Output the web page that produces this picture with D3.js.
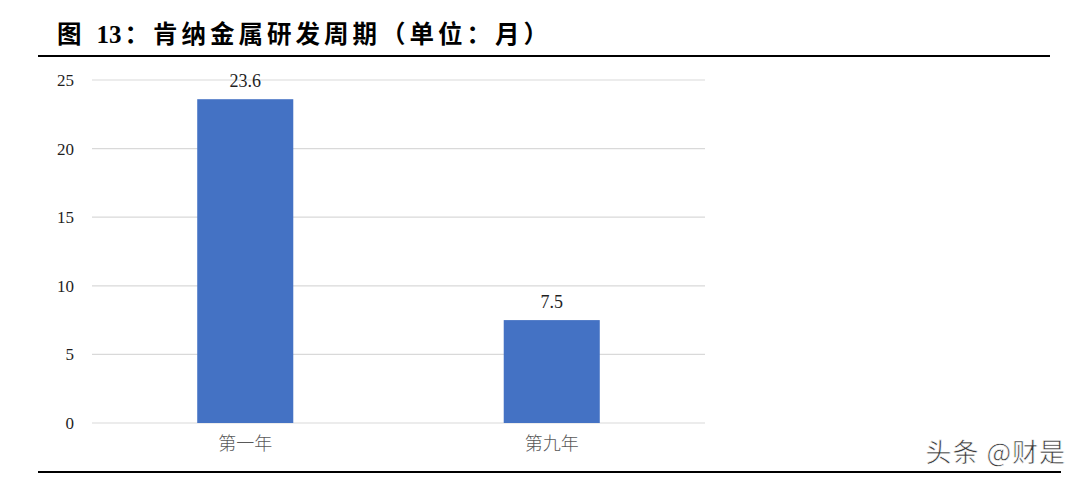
<!DOCTYPE html>
<html lang="zh">
<head>
<meta charset="UTF-8">
<title>肯纳金属研发周期</title>
<script src="https://cdn.jsdelivr.net/npm/d3@7/dist/d3.min.js"></script>
<style>
  body { margin: 0; background: #fff; }
</style>
</head>
<body>
<script>
// data
const categories = ["第一年", "第九年"];
const values = [23.6, 7.5];
const yTicks = [0, 5, 10, 15, 20, 25];

const width = 1082, height = 481;
const svg = d3.select("body").append("svg")
  .attr("width", width)
  .attr("height", height);

// title
const title = svg.append("text")
  .attr("x", 57)
  .attr("y", 43)
  .attr("font-size", 24.5)
  .attr("font-weight", "bold")
  .attr("fill", "#000");
title.append("tspan").attr("font-family", "Noto Sans CJK SC").text("图");
title.append("tspan").attr("font-family", "Liberation Serif").attr("font-size", 25)
  .attr("dx", 15).text("13");
title.append("tspan").attr("font-family", "Noto Sans CJK SC").attr("letter-spacing", 4)
  .attr("dx", 3)
  .text("：肯纳金属研发周期（单位：月）");

// rules
svg.append("line").attr("x1", 38).attr("x2", 1050).attr("y1", 56).attr("y2", 56)
  .attr("stroke", "#000").attr("stroke-width", 2);
svg.append("line").attr("x1", 38).attr("x2", 1061).attr("y1", 472).attr("y2", 472)
  .attr("stroke", "#000").attr("stroke-width", 2);

// scales
const x = d3.scaleBand()
  .domain(categories)
  .range([92, 705])
  .paddingInner(0.6866)
  .paddingOuter(0.3433);
const y = d3.scaleLinear()
  .domain([0, 25])
  .range([423, 80]);

// gridlines
svg.append("g")
  .selectAll("line")
  .data(yTicks)
  .enter().append("line")
  .attr("x1", 92).attr("x2", 705)
  .attr("y1", d => y(d)).attr("y2", d => y(d))
  .attr("stroke", "#d9d9d9")
  .attr("stroke-width", 1.2);

// y axis labels
const yAxis = d3.axisLeft(y).tickValues(yTicks).tickSize(0).tickPadding(0);
const gy = svg.append("g")
  .attr("transform", "translate(74,0)")
  .call(yAxis);
gy.select(".domain").remove();
gy.selectAll("text")
  .attr("font-family", "Liberation Serif")
  .attr("font-size", 17)
  .attr("fill", "#1f1f1f");

// bars
svg.append("g")
  .selectAll("rect")
  .data(values)
  .enter().append("rect")
  .attr("x", (d, i) => x(categories[i]))
  .attr("width", x.bandwidth())
  .attr("y", d => y(d))
  .attr("height", d => y(0) - y(d))
  .attr("fill", "#4472c4");

// value labels
svg.append("g")
  .selectAll("text")
  .data(values)
  .enter().append("text")
  .attr("x", (d, i) => x(categories[i]) + x.bandwidth() / 2)
  .attr("y", d => y(d) - 12)
  .attr("text-anchor", "middle")
  .attr("font-family", "Liberation Serif")
  .attr("font-size", 18)
  .attr("fill", "#1f1f1f")
  .text(d => d);

// x axis labels
const xAxis = d3.axisBottom(x).tickSize(0).tickPadding(0);
const gx = svg.append("g")
  .attr("transform", "translate(0,437)")
  .call(xAxis);
gx.select(".domain").remove();
gx.selectAll("text")
  .attr("font-family", "Noto Sans CJK SC")
  .attr("font-weight", 300)
  .attr("font-size", 18)
  .attr("fill", "#595959");

// watermark
svg.append("text")
  .attr("x", 1066)
  .attr("y", 462)
  .attr("text-anchor", "end")
  .attr("font-family", "Noto Sans CJK SC")
  .attr("font-size", 26)
  .attr("letter-spacing", 1)
  .attr("fill", "#3a3a3a")
  .attr("stroke", "#fff")
  .attr("stroke-width", 0.6)
  .text("头条 @财是");
</script>
</body>
</html>
